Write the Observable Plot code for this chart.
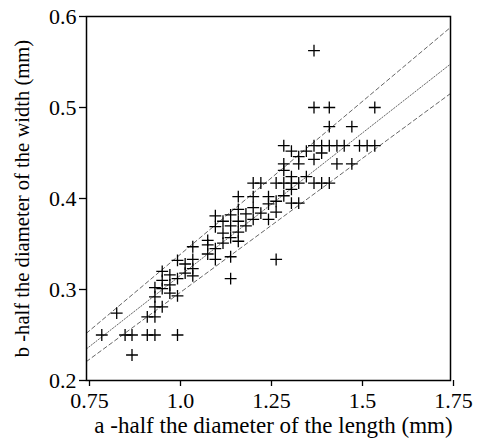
<!DOCTYPE html>
<html><head><meta charset="utf-8">
<script src="https://cdn.jsdelivr.net/npm/d3@7"></script>
<script src="https://cdn.jsdelivr.net/npm/@observablehq/plot@0.6"></script>
<style>body{margin:0;background:#fff}</style>
</head><body><div id="chart"></div>
<script>
const aValues = [
0.792,0.833,0.856,0.875,0.875,0.917,0.938,1.0,0.917,0.938,
0.938,0.958,0.938,0.938,0.958,0.958,0.958,0.979,0.979,0.979,
1.0,1.0,1.0,1.021,1.021,1.042,1.042,1.042,1.042,1.083,
1.083,1.083,1.104,1.104,1.104,1.104,1.125,1.125,1.125,1.146,
1.146,1.146,1.146,1.146,1.167,1.167,1.167,1.167,1.167,1.188,
1.188,1.208,1.208,1.208,1.208,1.229,1.229,1.25,1.25,1.25,
1.271,1.271,1.271,1.271,1.292,1.292,1.292,1.292,1.292,1.313,
1.313,1.313,1.313,1.313,1.333,1.333,1.333,1.333,1.354,1.354,
1.375,1.375,1.375,1.375,1.375,1.396,1.396,1.396,1.417,1.417,
1.417,1.417,1.438,1.438,1.458,1.479,1.479,1.5,1.521,1.542,1.542];
const bValues = [
0.25,0.274,0.25,0.25,0.228,0.25,0.25,0.25,0.27,0.27,
0.281,0.281,0.292,0.302,0.301,0.310,0.320,0.296,0.305,0.316,
0.293,0.312,0.332,0.318,0.328,0.315,0.323,0.333,0.347,0.354,
0.349,0.339,0.381,0.369,0.345,0.333,0.375,0.362,0.351,0.382,
0.370,0.357,0.336,0.312,0.402,0.388,0.375,0.363,0.353,0.383,
0.370,0.402,0.390,0.377,0.417,0.417,0.384,0.402,0.394,0.377,
0.417,0.397,0.385,0.333,0.458,0.438,0.431,0.417,0.403,0.452,
0.424,0.417,0.410,0.395,0.446,0.438,0.417,0.395,0.452,0.424,
0.5625,0.5,0.458,0.443,0.417,0.458,0.450,0.417,0.5,0.479,
0.458,0.417,0.458,0.438,0.458,0.479,0.438,0.458,0.458,0.458,0.5];
const lineSlopes = [0.336, 0.313, 0.2945];
const lineKinds = ["dashed", "dotted", "dashed"];
const xTicks = [0.75, 1.0, 1.25, 1.5, 1.75];
const xTickLabels = ["0.75", "1.0", "1.25", "1.5", "1.75"];
const yTicks = [0.2, 0.3, 0.4, 0.5, 0.6];
const yTickLabels = ["0.2", "0.3", "0.4", "0.5", "0.6"];
const xTitle = "a -half the diameter of the length (mm)";
const yTitle = "b -half the diameter of the width (mm)";

const points = aValues.map((a, i) => ({a, b: bValues[i]}));
const xDomain = [xTicks[0], xTicks[xTicks.length - 1]];
const lineData = lineSlopes.flatMap((s, k) => xDomain.map(x => ({x, y: s * x, k, kind: lineKinds[k]})));

const chart = Plot.plot({
  width: 480, height: 444,
  marginLeft: 86, marginRight: 30, marginTop: 16, marginBottom: 64,
  style: {fontFamily: "'Liberation Serif', 'Times New Roman', serif", fontSize: "22px", color: "black", background: "white"},
  x: {domain: xDomain},
  y: {domain: [yTicks[0], yTicks[yTicks.length - 1]]},
  marks: [
    Plot.line(lineData.filter(d => d.kind === "dashed"), {x: "x", y: "y", z: "k", stroke: "#666", strokeWidth: 1, strokeDasharray: "4,3"}),
    Plot.line(lineData.filter(d => d.kind === "dotted"), {x: "x", y: "y", z: "k", stroke: "#666", strokeWidth: 1, strokeDasharray: "1.3,1.7"}),
    Plot.dot(points, {x: "a", y: "b", symbol: "plus", r: 3.9, stroke: "black", strokeWidth: 1.3}),
    Plot.frame({stroke: "black", strokeWidth: 1.5}),
    Plot.axisX({ticks: xTicks, tickFormat: d => xTickLabels[xTicks.indexOf(d)], tickSize: 6, tickPadding: 6, strokeWidth: 1.3, label: null, dx: 3}),
    Plot.axisY({ticks: yTicks, tickFormat: d => yTickLabels[yTicks.indexOf(d)], tickSize: 7, tickPadding: 3, strokeWidth: 1.3, label: null}),
    Plot.text([xTitle], {text: d => d, frameAnchor: "bottom", dy: 52, dx: 5, fontSize: 23}),
    Plot.text([yTitle], {text: d => d, frameAnchor: "left", textAnchor: "middle", lineAnchor: "middle", rotate: -90, dx: -64, fontSize: 20.6})
  ]
});
document.getElementById("chart").appendChild(chart);
</script>
</body></html>
